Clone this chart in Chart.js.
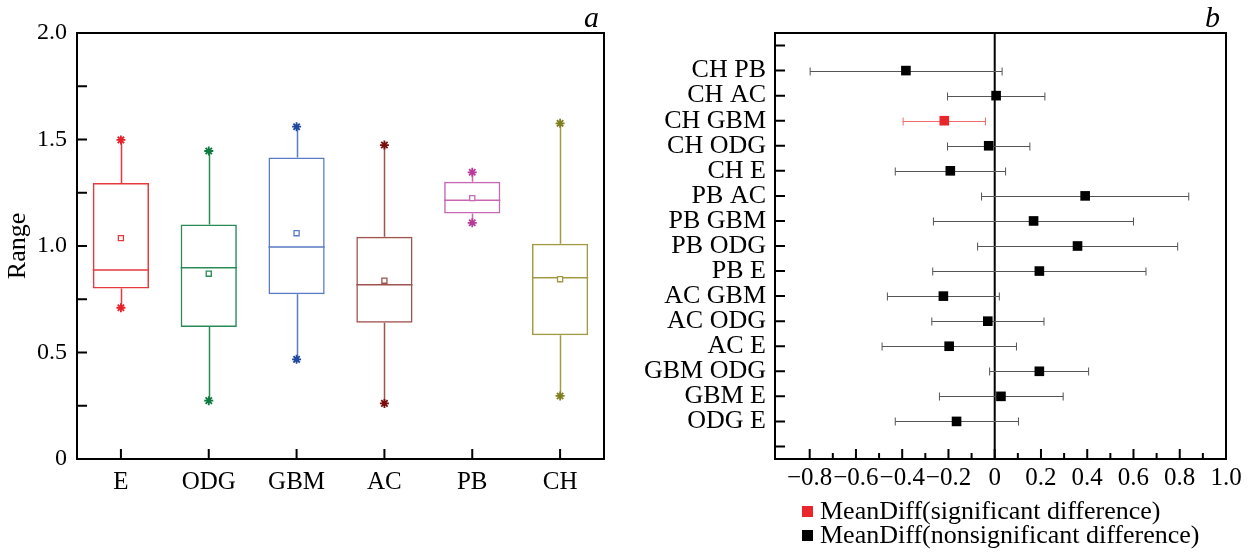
<!DOCTYPE html>
<html>
<head>
<meta charset="utf-8">
<script src="https://cdn.jsdelivr.net/npm/chart.js@4.4.0/dist/chart.umd.min.js"></script>
<style>
  html, body { margin: 0; padding: 0; background: #fff; }
  #wrap { position: relative; width: 1250px; height: 552px; font-family: "Liberation Serif", "DejaVu Serif", serif; color: #000; }
  canvas { position: absolute; top: 0; }
  #boxCanvas { left: 0; }
  #diffCanvas { left: 625px; }
  .panel { position: absolute; top: 2px; font-style: italic; font-size: 30px; line-height: 30px; }
  .legend { position: absolute; left: 802px; top: 499px; font-size: 26px; line-height: 24px; }
  .legend div { display: flex; align-items: center; white-space: nowrap; }
  .legend .sw { display: inline-block; width: 11px; height: 11px; margin-right: 7px; }
</style>
</head>
<body>
<div id="wrap">
  <canvas id="boxCanvas" width="625" height="552"></canvas>
  <canvas id="diffCanvas" width="625" height="552"></canvas>
  <span class="panel" style="left:584px">a</span>
  <span class="panel" style="left:1205px">b</span>
  <div class="legend">
    <div><span class="sw" style="background:#e8262b"></span>MeanDiff(significant difference)</div>
    <div><span class="sw" style="background:#000"></span>MeanDiff(nonsignificant difference)</div>
  </div>
</div>
<script>
// ---- panel a: box plot data ----
const groups = ["E", "ODG", "GBM", "AC", "PB", "CH"];
const q1 = [0.80, 0.62, 0.773, 0.64, 1.152, 0.581];
const q3 = [1.296, 1.101, 1.415, 1.044, 1.302, 1.011];
const medians = [0.887, 0.898, 0.995, 0.818, 1.215, 0.851];
const means = [1.037, 0.87, 1.06, 0.837, 1.225, 0.844];
const mins = [0.71, 0.274, 0.468, 0.261, 1.109, 0.296];
const maxs = [1.498, 1.446, 1.56, 1.474, 1.346, 1.576];
const boxColors = ["#e8383d", "#2a8a55", "#5a7cc4", "#a0524e", "#c868b4", "#a39a45"];
const markColors = ["#e8202a", "#0f7a40", "#2048a0", "#7a0c0c", "#b83a9a", "#80801f"];

// ---- panel b: mean differences ----
const pairs = ["CH PB", "CH AC", "CH GBM", "CH ODG", "CH E", "PB AC", "PB GBM", "PB ODG",
  "PB E", "AC GBM", "AC ODG", "AC E", "GBM ODG", "GBM E", "ODG E"];
const meanDiff = [-0.384, 0.006, -0.218, -0.026, -0.192, 0.391, 0.168, 0.358,
  0.193, -0.222, -0.030, -0.197, 0.193, 0.027, -0.165];
const ciLow = [-0.798, -0.204, -0.396, -0.204, -0.430, -0.057, -0.265, -0.074,
  -0.268, -0.464, -0.272, -0.487, -0.022, -0.239, -0.430];
const ciHigh = [0.032, 0.217, -0.040, 0.152, 0.047, 0.839, 0.600, 0.791,
  0.654, 0.020, 0.213, 0.094, 0.406, 0.296, 0.103];
const significant = [false, false, true, false, false, false, false, false,
  false, false, false, false, false, false, false];

const FONT = "'Liberation Serif', 'DejaVu Serif', serif";

const frame = {
  id: "frame",
  afterDraw(chart) {
    const { ctx, chartArea: a } = chart;
    ctx.save();
    ctx.strokeStyle = "#000";
    ctx.lineWidth = 2;
    ctx.strokeRect(a.left, a.top, a.right - a.left, a.bottom - a.top);
    ctx.restore();
  }
};

// whiskers + medians, drawn under the markers
const boxParts = {
  id: "boxParts",
  beforeDatasetsDraw(chart) {
    const { ctx, scales: { x, y } } = chart;
    const bars = chart.getDatasetMeta(0).data;
    ctx.save();
    ctx.lineWidth = 1.5;
    groups.forEach((g, i) => {
      const cx = Math.round(x.getPixelForValue(i)) + 0.5;
      const half = bars[i].width / 2;
      const my = y.getPixelForValue(medians[i]);
      ctx.strokeStyle = boxColors[i];
      ctx.beginPath();
      ctx.moveTo(cx, y.getPixelForValue(q3[i])); ctx.lineTo(cx, y.getPixelForValue(maxs[i]));
      ctx.moveTo(cx, y.getPixelForValue(q1[i])); ctx.lineTo(cx, y.getPixelForValue(mins[i]));
      ctx.moveTo(bars[i].x - half, my); ctx.lineTo(bars[i].x + half, my);
      ctx.stroke();
    });
    ctx.restore();
  }
};

const boxTicks = {
  id: "boxTicks",
  afterDraw(chart) {
    const { ctx, chartArea: a, scales: { x, y } } = chart;
    ctx.save();
    ctx.strokeStyle = "#000";
    ctx.lineWidth = 2;
    ctx.beginPath();
    y.ticks.forEach(t => {
      const py = y.getPixelForValue(t.value);
      ctx.moveTo(a.left, py); ctx.lineTo(a.left + 10, py);
    });
    groups.forEach((g, i) => {
      const px = x.getPixelForValue(i);
      ctx.moveTo(px, a.bottom); ctx.lineTo(px, a.bottom - 10);
    });
    ctx.stroke();
    ctx.restore();
  }
};

new Chart(document.getElementById("boxCanvas"), {
  type: "bar",
  data: {
    labels: groups,
    datasets: [
      { type: "bar", data: groups.map((g, i) => [q1[i], q3[i]]),
        backgroundColor: "rgba(255,255,255,0)", borderColor: boxColors, borderWidth: 1.5,
        borderSkipped: false, barPercentage: 0.64, categoryPercentage: 1, grouped: false },
      { type: "line", data: means, showLine: false, pointStyle: "rect", pointRadius: 3.6,
        pointBorderWidth: 1.3, pointBackgroundColor: "#fff", pointBorderColor: boxColors },
      { type: "line", data: maxs, showLine: false, pointStyle: "star", pointRadius: 4.5,
        pointBorderWidth: 1.8, pointBorderColor: markColors },
      { type: "line", data: mins, showLine: false, pointStyle: "star", pointRadius: 4.5,
        pointBorderWidth: 1.8, pointBorderColor: markColors }
    ]
  },
  options: {
    responsive: false,
    animation: false,
    devicePixelRatio: 1,
    layout: { padding: { top: 33, right: 21, left: 0, bottom: 0 } },
    plugins: { legend: { display: false }, tooltip: { enabled: false } },
    scales: {
      x: {
        border: { display: false }, grid: { display: false, tickLength: 0 },
        ticks: { padding: 8, color: "#000", font: { family: FONT, size: 25 } },
        afterFit: s => { s.height = 93; }
      },
      y: {
        min: 0, max: 2,
        border: { display: false }, grid: { display: false, tickLength: 0 },
        ticks: {
          stepSize: 0.25, maxTicksLimit: 100, autoSkip: false, padding: 10, color: "#000",
          font: { family: FONT, size: 24 },
          callback: v => Math.abs(v * 2 - Math.round(v * 2)) < 1e-6 ? (v === 0 ? "0" : v.toFixed(1)) : ""
        },
        title: { display: true, text: "Range", color: "#000", font: { family: FONT, size: 26 }, padding: { top: 3, bottom: 0 } },
        afterFit: s => { s.width = 77; }
      }
    }
  },
  plugins: [boxParts, boxTicks, frame]
});

// ---- panel b ----
const errBars = {
  id: "errBars",
  beforeDatasetsDraw(chart) {
    const { ctx, chartArea: a, scales: { x, y } } = chart;
    ctx.save();
    const x0 = x.getPixelForValue(0);
    ctx.strokeStyle = "#000";
    ctx.lineWidth = 2;
    ctx.beginPath(); ctx.moveTo(x0, a.top); ctx.lineTo(x0, a.bottom); ctx.stroke();
    ctx.lineWidth = 1;
    pairs.forEach((p, i) => {
      const py = Math.round(y.getPixelForValue(pairs.length - i)) + 0.5;
      const xl = x.getPixelForValue(ciLow[i]), xh = x.getPixelForValue(ciHigh[i]);
      ctx.strokeStyle = significant[i] ? "#f06a6a" : "#555";
      ctx.beginPath();
      ctx.moveTo(xl, py); ctx.lineTo(xh, py);
      ctx.moveTo(xl, py - 4); ctx.lineTo(xl, py + 4);
      ctx.moveTo(xh, py - 4); ctx.lineTo(xh, py + 4);
      ctx.stroke();
    });
    ctx.restore();
  }
};

const diffTicks = {
  id: "diffTicks",
  afterDraw(chart) {
    const { ctx, chartArea: a, scales: { x, y } } = chart;
    ctx.save();
    ctx.strokeStyle = "#000";
    ctx.lineWidth = 2;
    ctx.beginPath();
    x.ticks.forEach(t => {
      const k = Math.round(t.value * 10);
      if (Math.abs(t.value * 10 - k) > 1e-6) return;
      const px = x.getPixelForValue(t.value);
      ctx.moveTo(px, a.bottom); ctx.lineTo(px, a.bottom - (k % 2 === 0 ? 10 : 6));
    });
    y.ticks.forEach(t => {
      const py = y.getPixelForValue(t.value);
      ctx.moveTo(a.left, py); ctx.lineTo(a.left + 10, py);
    });
    ctx.stroke();
    ctx.restore();
  }
};

new Chart(document.getElementById("diffCanvas"), {
  type: "scatter",
  data: {
    datasets: [{
      data: pairs.map((p, i) => ({ x: meanDiff[i], y: pairs.length - i })),
      pointStyle: "rect", pointRadius: 6.8, pointBorderWidth: 0,
      pointBackgroundColor: significant.map(s => s ? "#e8262b" : "#000")
    }]
  },
  options: {
    responsive: false,
    animation: false,
    devicePixelRatio: 1,
    layout: { padding: { top: 33, right: 24, left: 0, bottom: 0 } },
    plugins: { legend: { display: false }, tooltip: { enabled: false } },
    scales: {
      x: {
        type: "linear", min: -0.95, max: 1.0,
        border: { display: false }, grid: { display: false, tickLength: 0 },
        ticks: {
          stepSize: 0.1, maxTicksLimit: 100, autoSkip: false, maxRotation: 0, padding: 4,
          color: "#000", font: { family: FONT, size: 25 },
          callback: v => {
            const k = Math.round(v * 10);
            if (Math.abs(v * 10 - k) > 1e-6 || k % 2 !== 0) return "";
            return k === 0 ? "0" : (k / 10).toFixed(1).replace("-", "\u2212");
          }
        },
        afterFit: s => { s.height = 93; }
      },
      y: {
        type: "linear", min: -0.5, max: 16.5,
        border: { display: false }, grid: { display: false, tickLength: 0 },
        ticks: {
          autoSkip: false, padding: 9,
          color: "#000", font: { family: FONT, size: 26 },
          callback: v => v >= 1 && v <= pairs.length ? pairs[pairs.length - v] : ""
        },
        // one tick per row, plus the empty rows at both ends
        afterBuildTicks: s => { s.ticks = [...pairs, "", ""].map((p, k) => ({ value: k })); },
        afterFit: s => { s.width = 150; }
      }
    }
  },
  plugins: [errBars, diffTicks, frame]
});
</script>
</body>
</html>
